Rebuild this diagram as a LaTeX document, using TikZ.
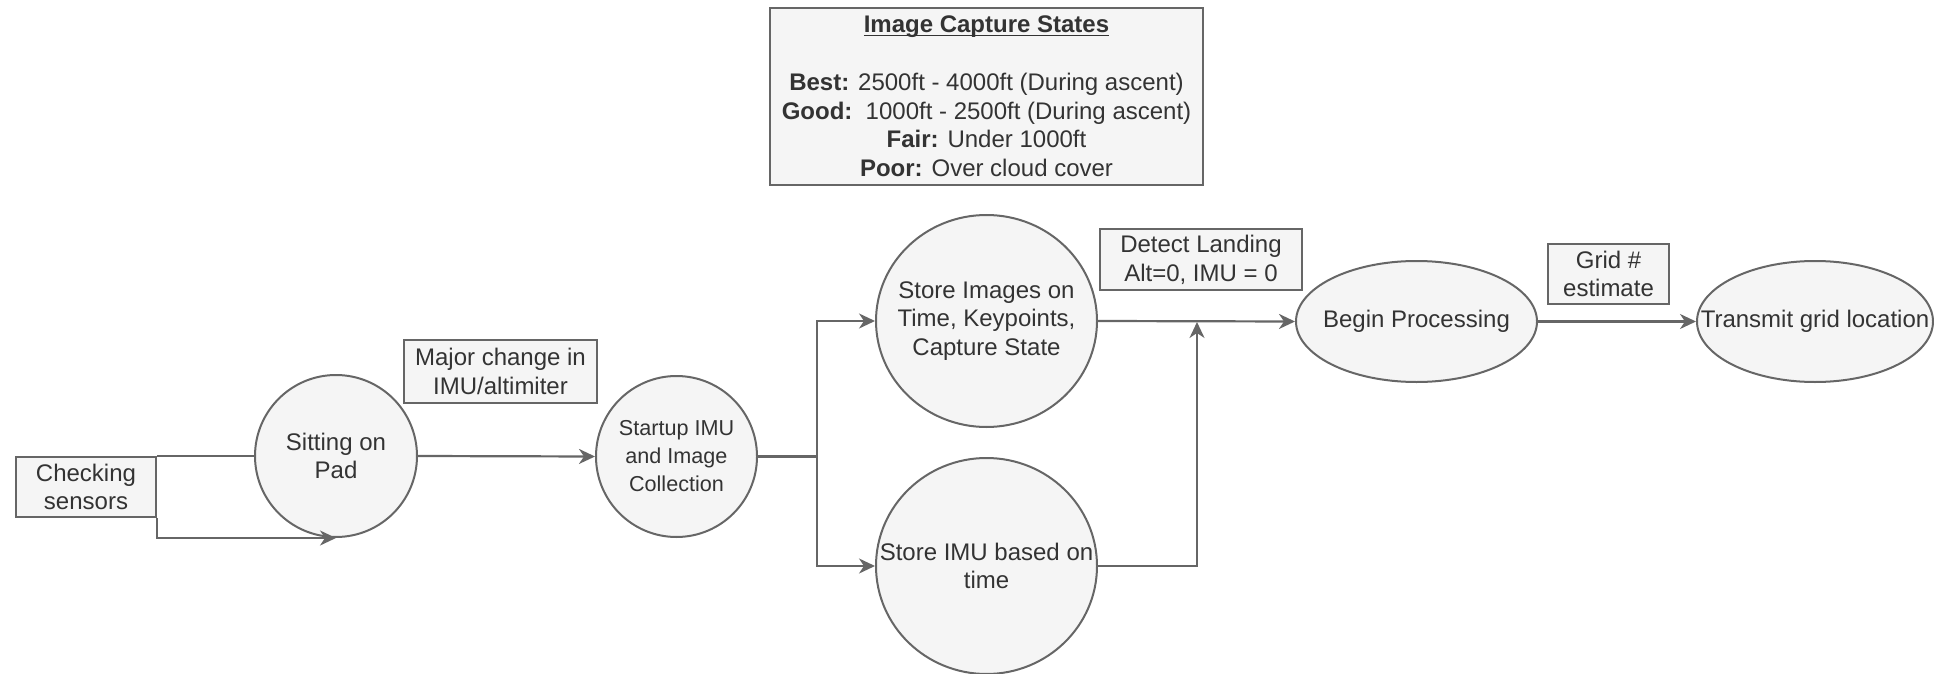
\documentclass[tikz,border=0pt]{standalone}
\usepackage{fontspec}
\setmainfont{Liberation Sans}
\usetikzlibrary{shapes.geometric,arrows.meta}
\definecolor{fillc}{HTML}{F5F5F5}
\definecolor{strokec}{HTML}{666666}
\definecolor{textc}{HTML}{333333}
\newcommand\myul[1]{\setbox0\hbox{#1}\rlap{\rule[-1.6pt]{\wd0}{0.7pt}}\box0}
\begin{document}
\begin{tikzpicture}[x=0.5pt,y=-0.5pt,
  txt/.style={text=textc, align=center, inner sep=0pt, font=\fontsize{12}{14.4}\selectfont},
  box/.style={draw=strokec, fill=fillc, line width=1pt, txt},
  ell/.style={draw=strokec, fill=fillc, line width=1pt, ellipse, inner sep=0pt},
  arr/.style={draw=strokec, line width=1.1pt, -{Stealth[length=8pt,width=7.5pt,inset=2.5pt]}},
  ln/.style={draw=strokec, line width=1.1pt}]
\useasboundingbox (0,0) rectangle (1934,674);

\node[box, minimum width=216.5pt, minimum height=88.5pt] (cap) at (986.5,96.5)
  {\myul{\textbf{Image Capture States}}\\[14.4pt]
   \textbf{Best:} 2500ft - 4000ft (During ascent)\\
   \textbf{Good:}\ \ 1000ft - 2500ft (During ascent)\\
   \textbf{Fair:} Under 1000ft\\
   \textbf{Poor:} Over cloud cover};

\node[box, minimum width=70pt, minimum height=30pt] (chk) at (86,487) {Checking\\sensors};
\node[ell, minimum width=81pt, minimum height=81pt,
  label={[txt]center:{Sitting on\\Pad}}] (pad) at (336,456) {};
\node[box, minimum width=96.5pt, minimum height=31.5pt] (major) at (500.5,371.5) {Major change in\\IMU/altimiter};
\node[ell, minimum width=80.5pt, minimum height=80.5pt,
  label={[txt, font=\fontsize{10.8}{14}\selectfont]center:{Startup IMU\\and Image\\Collection}}] (startup) at (676.5,456.5) {};
\node[ell, minimum width=110.5pt, minimum height=106pt,
  label={[txt]center:{Store Images on\\Time, Keypoints,\\Capture State}}] (simg) at (986.5,321) {};
\node[ell, minimum width=110.5pt, minimum height=108pt,
  label={[txt]center:{Store IMU based on\\time}}] (simu) at (986.5,566) {};
\node[box, minimum width=101pt, minimum height=30.5pt] (detect) at (1201,259.5) {Detect Landing\\Alt=0, IMU = 0};
\node[ell, minimum width=120.5pt, minimum height=60.5pt,
  label={[txt]center:{Begin Processing}}] (begin) at (1416.5,321.5) {};
\node[box, minimum width=60.5pt, minimum height=30pt] (grid) at (1608.5,274) {Grid \#\\estimate};
\node[ell, minimum width=118pt, minimum height=60.5pt,
  label={[txt]center:{Transmit grid location}}] (trans) at (1815,321.5) {};

\coordinate (split) at (817,456.5);
\coordinate (merge) at (1197,322);

\draw[ln] (chk.north east) -- (chk.north east -| pad.west);
\draw[arr] (chk.south east) |- (pad.south);
\draw[arr] (pad.east) -- (startup.west);
\draw[ln] (startup.east) -- (split);
\draw[arr] (split) |- (simg.west);
\draw[arr] (split) |- (simu.west);
\draw[arr] (simg.east) -- (begin.west);
\draw[arr] (simu.east) -| (merge);
\draw[arr] (begin.east) -- (trans.west);
\end{tikzpicture}
\end{document}
